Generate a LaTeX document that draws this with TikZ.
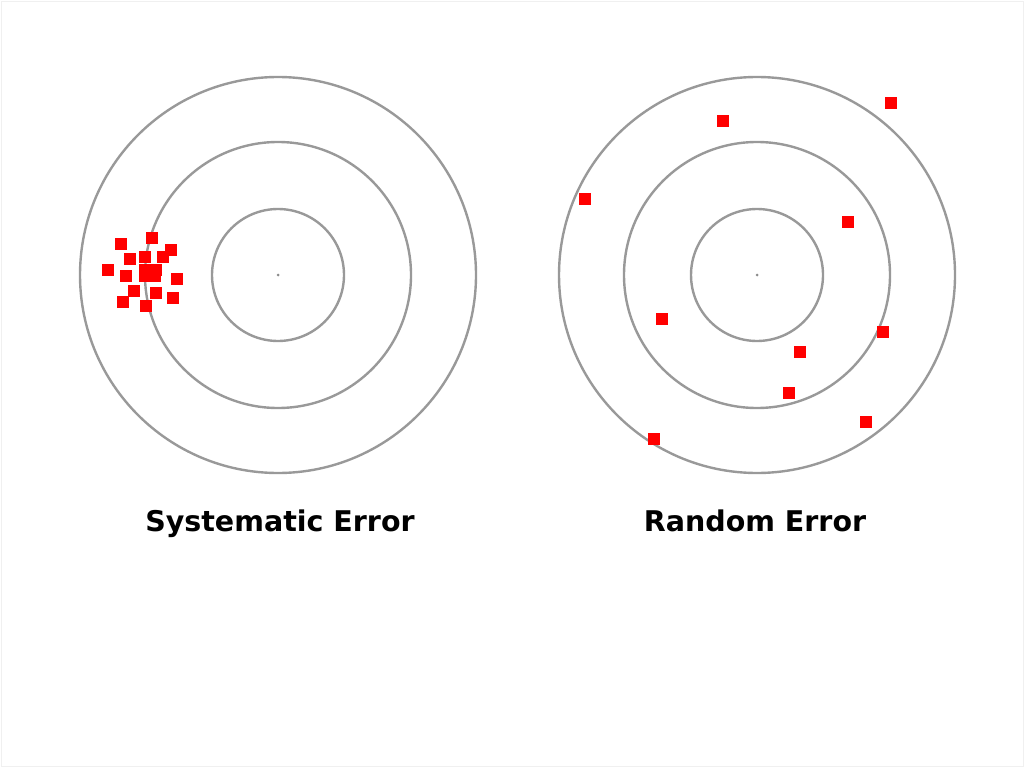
\documentclass[tikz,border=0pt]{standalone}
\usepackage{fontspec}
\newfontfamily\capfont{DejaVu Sans}

\tikzset{
  ring/.style={draw=black!40, line width=2.4pt},
  hit/.style={fill=red, inner sep=0pt, minimum size=12pt},
  caption/.style={anchor=base, font=\capfont\fontsize{28.5}{32}\selectfont\bfseries}
}

\begin{document}
\begin{tikzpicture}[x=1pt, y=-1pt]
  \useasboundingbox (0,0) rectangle (1024,767);
  \draw[black!6] (1,1) rectangle (1023,766);

  % Targets
  \foreach \name/\cx in {sys/278, rnd/757} {
    \coordinate (\name) at (\cx,275);
    \foreach \r in {66,133,198}
      \draw[ring] (\name) circle (\r);
    \fill[black!45] (\name) circle (1.5);
  }

  % Systematic hits
  \foreach \x/\y [count=\i] in {121/244, 152/238, 171/250, 130/259, 145/257,
      163/257, 108/270, 126/276, 145/270, 156/270, 145/276, 155/276, 177/279,
      134/291, 156/293, 173/298, 123/302, 146/306}
    \node[hit] (s\i) at (\x,\y) {};

  % Random hits
  \foreach \x/\y [count=\i] in {891/103, 723/121, 585/199, 848/222, 662/319,
      883/332, 800/352, 789/393, 866/422, 654/439}
    \node[hit] (r\i) at (\x,\y) {};

  % Captions
  \node[caption] (syslabel) at (280,531) {Systematic Error};
  \node[caption] (rndlabel) at (755,531) {Random Error};
\end{tikzpicture}
\end{document}
